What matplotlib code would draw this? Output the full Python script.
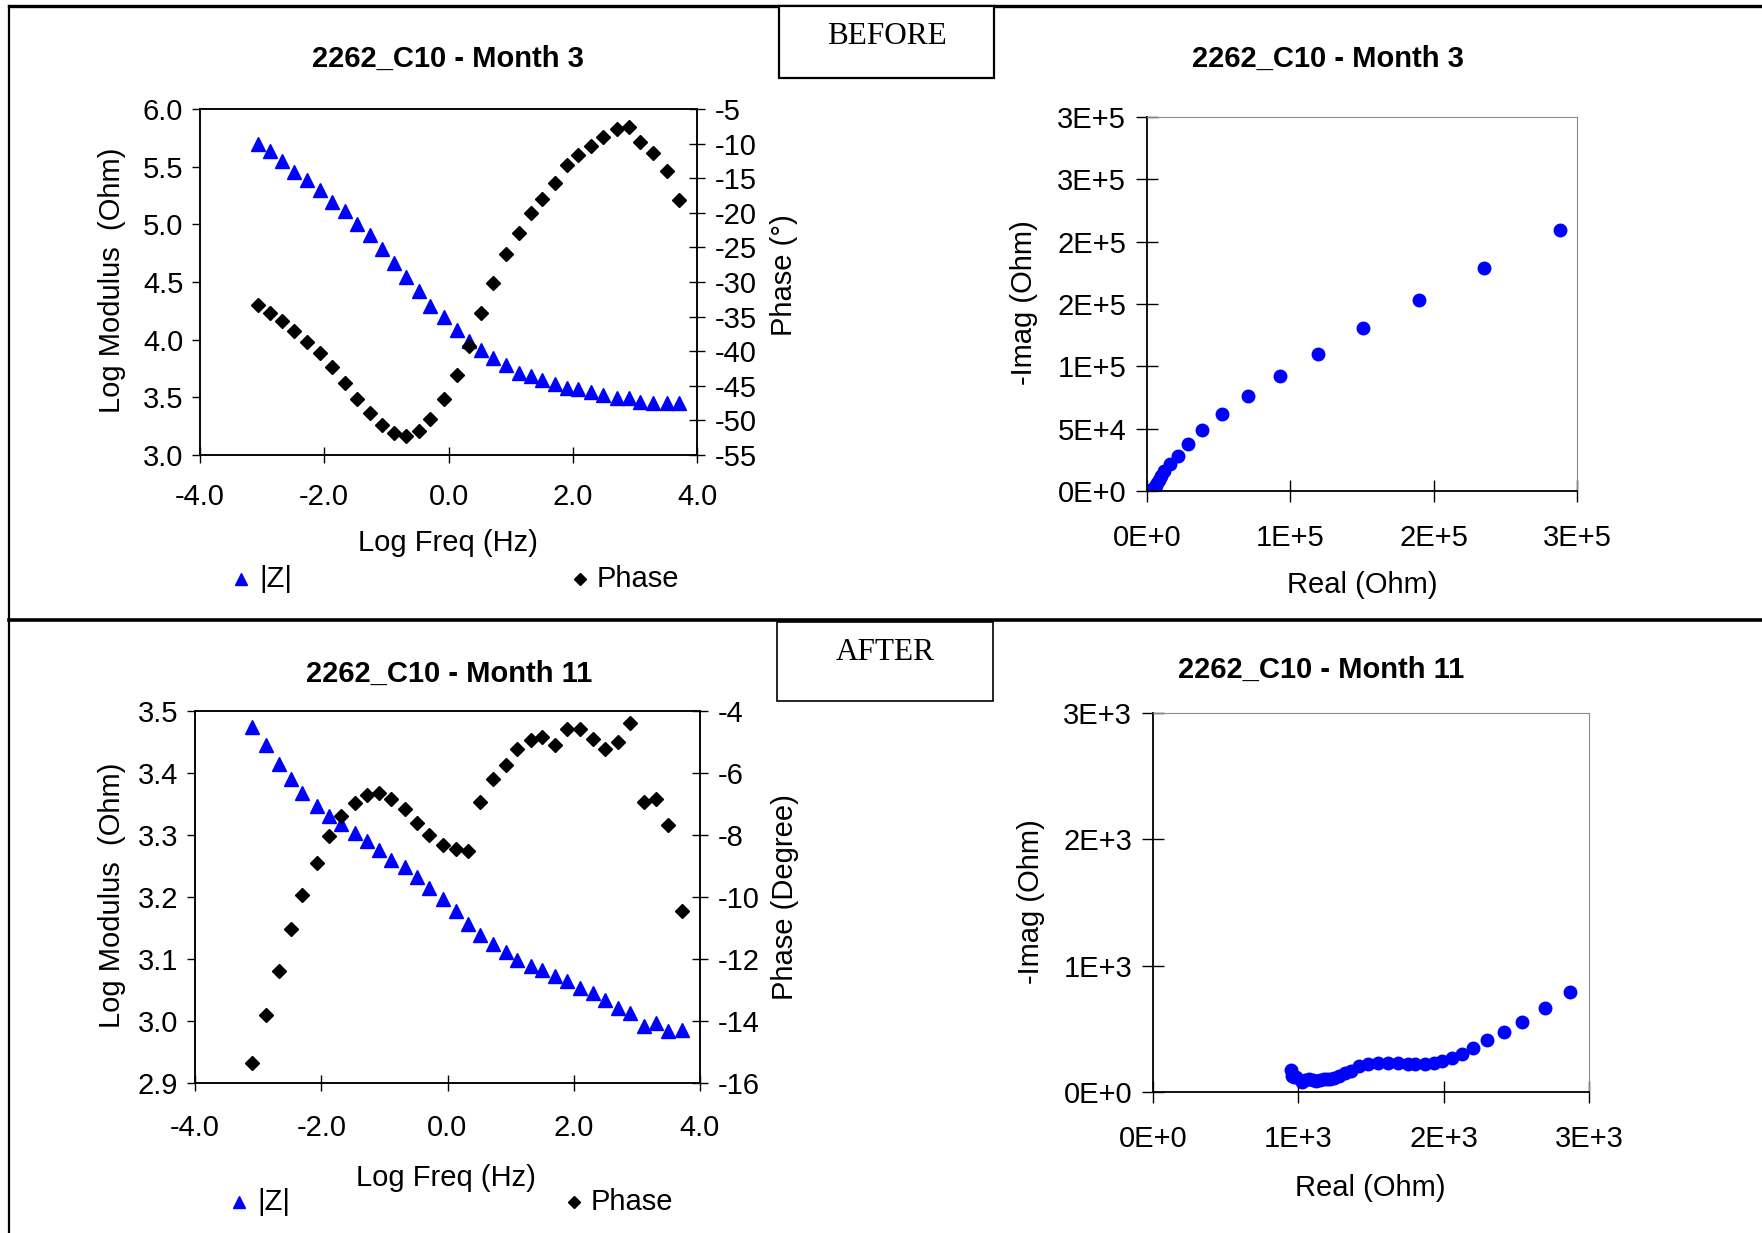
import matplotlib
matplotlib.use("Agg")
import matplotlib.pyplot as plt
from matplotlib.lines import Line2D
from matplotlib.patches import Rectangle
from matplotlib.ticker import FixedLocator, FuncFormatter, FormatStrFormatter
import math

plt.rcParams['font.family'] = ['Liberation Sans', 'DejaVu Sans']
plt.rcParams['axes.unicode_minus'] = False

W, H, DPI = 1762, 1233, 100

# ---------------- Month 3 (before) ----------------
m3_logf = [-3.07, -2.87, -2.68, -2.48, -2.27, -2.07, -1.87, -1.67, -1.48, -1.26,
           -1.07, -0.87, -0.68, -0.48, -0.29, -0.07, 0.13, 0.33, 0.52, 0.71,
           0.93, 1.13, 1.32, 1.51, 1.71, 1.91, 2.09, 2.29, 2.48, 2.71,
           2.90, 3.09, 3.29, 3.52, 3.71]
m3_logz = [5.697, 5.633, 5.547, 5.454, 5.382, 5.301, 5.197, 5.113, 5.007, 4.906,
           4.787, 4.663, 4.542, 4.418, 4.296, 4.195, 4.088, 3.987, 3.909, 3.843,
           3.777, 3.713, 3.684, 3.649, 3.612, 3.583, 3.569, 3.548, 3.517, 3.496,
           3.496, 3.459, 3.447, 3.453, 3.453]
m3_phase = [-33.3, -34.5, -35.6, -37.1, -38.6, -40.3, -42.3, -44.6, -46.9, -48.9,
            -50.7, -51.8, -52.2, -51.5, -49.8, -46.9, -43.4, -39.3, -34.5, -30.1,
            -26.0, -22.9, -20.0, -18.0, -15.7, -13.1, -11.6, -10.3, -9.0, -7.9,
            -7.6, -9.7, -11.4, -13.9, -18.2]
m3_real = [288000, 235000, 190000, 151000, 119000, 92900, 70400, 52100, 38200, 28500,
           21400, 15700, 12200, 10000, 8400, 7200, 6500, 5900, 5300, 4750,
           4540, 4240, 3940, 3730, 3630, 3480, 3250, 3100, 3100, 2840,
           2740, 2760, 2700]
m3_imag = [209000, 179000, 153000, 131000, 110000, 92400, 76400, 62000, 49100, 38000,
           28400, 22000, 16000, 12000, 8700, 6200, 4600, 3500, 2600, 2000,
           1650, 1370, 1110, 870, 750, 630, 520, 430, 410, 480,
           550, 680, 890]

# ---------------- Month 11 (after) ----------------
m11_logf = [-3.09, -2.87, -2.67, -2.48, -2.30, -2.07, -1.88, -1.69, -1.47, -1.27,
            -1.08, -0.89, -0.67, -0.48, -0.29, -0.07, 0.13, 0.32, 0.51, 0.72,
            0.92, 1.10, 1.32, 1.49, 1.71, 1.90, 2.10, 2.31, 2.50, 2.70,
            2.89, 3.12, 3.31, 3.50, 3.72]
m11_logz = [3.474, 3.445, 3.415, 3.390, 3.367, 3.347, 3.331, 3.317, 3.303, 3.290,
            3.276, 3.260, 3.248, 3.232, 3.215, 3.196, 3.177, 3.157, 3.138, 3.125,
            3.112, 3.099, 3.089, 3.083, 3.073, 3.064, 3.053, 3.045, 3.034, 3.021,
            3.013, 2.992, 2.997, 2.984, 2.986]
m11_phase = [-15.35, -13.80, -12.38, -11.03, -9.92, -8.90, -8.04, -7.40, -6.97, -6.70,
             -6.65, -6.83, -7.15, -7.61, -7.99, -8.31, -8.44, -8.51, -6.95, -6.18,
             -5.73, -5.22, -4.92, -4.84, -5.09, -4.57, -4.57, -4.90, -5.23, -5.01,
             -4.39, -6.95, -6.83, -7.67, -10.44]
m11_real = [2870, 2700, 2538, 2413, 2298, 2200, 2123, 2056, 1990, 1932,
            1870, 1805, 1752, 1688, 1620, 1550, 1482, 1418, 1363, 1320,
            1280, 1245, 1218, 1200, 1175, 1150, 1122, 1100, 1073, 1043,
            1024, 973, 984, 953, 948]
m11_imag = [793, 667, 558, 475, 410, 347, 304, 270, 245, 227,
            222, 220, 222, 226, 227, 226, 221, 208, 170, 147,
            128, 112, 104, 101, 104, 92, 90, 95, 100, 92,
            80, 118, 118, 130, 178]

# Tick positions
bode_x_ticks = [-4.0, -2.0, 0.0, 2.0, 4.0]
m3_mod_ticks = [3.0, 3.5, 4.0, 4.5, 5.0, 5.5, 6.0]
m3_phase_ticks = [-55, -50, -45, -40, -35, -30, -25, -20, -15, -10, -5]
m11_mod_ticks = [2.9, 3.0, 3.1, 3.2, 3.3, 3.4, 3.5]
m11_phase_ticks = [-16, -14, -12, -10, -8, -6, -4]
m3_nyq_x_ticks = [0, 100000, 200000, 300000]
m3_nyq_y_ticks = [0, 50000, 100000, 150000, 200000, 250000, 300000]
m11_nyq_ticks = [0, 1000, 2000, 3000]

title_m3 = "2262_C10 - Month 3"
title_m11 = "2262_C10 - Month 11"

BLUE = '#0000ff'
TICK_FS = 21
LABEL_FS = 21
TITLE_FS = 21

fig = plt.figure(figsize=(W / DPI, H / DPI), dpi=DPI)


def rect(x0, y0, x1, y1):
    return [x0 / W, 1 - y1 / H, (x1 - x0) / W, (y1 - y0) / H]


def ftext(x, y, s, **kw):
    kw.setdefault('ha', 'center')
    kw.setdefault('va', 'center')
    return fig.text(x / W, 1 - y / H, s, **kw)


def fline(xs, ys, **kw):
    fig.add_artist(Line2D([x / W for x in xs], [1 - y / H for y in ys],
                          transform=fig.transFigure, **kw))


def excel_sci(v, pos=None):
    if v == 0:
        return "0E+0"
    e = int(math.floor(math.log10(abs(v))))
    m = int(math.floor(abs(v) / 10 ** e + 0.5))
    if m == 10:
        m, e = 1, e + 1
    return f"{m}E+{e}"


def bode(box, logf, logz, phase, zlim, zticks, plim, pticks, xpad):
    ax = fig.add_axes(rect(*box))
    ax.plot(logf, logz, linestyle='none', marker='^', ms=9.5, color=BLUE, mec=BLUE)
    ax.set_xlim(-4, 4)
    ax.set_ylim(*zlim)
    ax.xaxis.set_major_locator(FixedLocator(bode_x_ticks))
    ax.xaxis.set_major_formatter(FormatStrFormatter('%.1f'))
    ax.yaxis.set_major_locator(FixedLocator(zticks))
    ax.yaxis.set_major_formatter(FormatStrFormatter('%.1f'))
    ax.tick_params(axis='x', direction='inout', length=11, width=1, pad=xpad,
                   labelsize=TICK_FS)
    ax.tick_params(axis='y', direction='out', length=6, width=1, pad=6,
                   labelsize=TICK_FS)
    for s in ax.spines.values():
        s.set_linewidth(1.1)
    ax2 = ax.twinx()
    ax2.plot(logf, phase, linestyle='none', marker='D', ms=7, color='black')
    ax2.set_ylim(*plim)
    ax2.yaxis.set_major_locator(FixedLocator(pticks))
    ax2.yaxis.set_major_formatter(FormatStrFormatter('%d'))
    ax2.tick_params(axis='y', direction='inout', length=11, width=1, pad=7,
                    labelsize=TICK_FS)
    for s in ax2.spines.values():
        s.set_linewidth(1.1)
    return ax, ax2


def nyquist(box, re, im, xticks, yticks, lim):
    ax = fig.add_axes(rect(*box))
    ax.plot(re, im, linestyle='none', marker='o', ms=9, color=BLUE, mec=BLUE,
            clip_on=True)
    ax.set_xlim(0, lim)
    ax.set_ylim(0, lim)
    ax.xaxis.set_major_locator(FixedLocator(xticks))
    ax.yaxis.set_major_locator(FixedLocator(yticks))
    ax.xaxis.set_major_formatter(FuncFormatter(excel_sci))
    ax.yaxis.set_major_formatter(FuncFormatter(excel_sci))
    ax.tick_params(axis='both', direction='inout', length=16, width=1,
                   labelsize=TICK_FS)
    ax.tick_params(axis='x', pad=16)
    ax.tick_params(axis='y', pad=7)
    ax.spines['left'].set_linewidth(1.3)
    ax.spines['bottom'].set_linewidth(1.3)
    ax.spines['top'].set_color('#8a8a8a')
    ax.spines['right'].set_color('#8a8a8a')
    return ax


# Panel frame and section boxes
fline([9, W], [6, 6], color='black', lw=2.4)
fline([9, 9], [6, H], color='black', lw=1.6)
fline([9, W], [620, 620], color='black', lw=2.6)
fig.add_artist(Rectangle((779 / W, 1 - 78 / H), (994 - 779) / W, (78 - 6) / H,
                         transform=fig.transFigure, fill=True, fc='white',
                         ec='black', lw=1.6, zorder=3))
fig.add_artist(Rectangle((777 / W, 1 - 701 / H), (993 - 777) / W, (701 - 622) / H,
                         transform=fig.transFigure, fill=True, fc='white',
                         ec='black', lw=1.2, zorder=3))
ftext(887, 37, "BEFORE", family=['Liberation Serif', 'DejaVu Serif'], size=22.5,
      zorder=4)
ftext(885, 653, "AFTER", family=['Liberation Serif', 'DejaVu Serif'], size=22.5,
      zorder=4)

# ---------- Before ----------
bode((200, 109, 697, 455), m3_logf, m3_logz, m3_phase, (3.0, 6.0), m3_mod_ticks,
     (-55, -5), m3_phase_ticks, 15)
nyquist((1147, 117, 1577, 491), m3_real, m3_imag, m3_nyq_x_ticks, m3_nyq_y_ticks, 300000)

ftext(448, 59, title_m3, size=TITLE_FS, weight='bold')
ftext(1328, 59, title_m3, size=TITLE_FS, weight='bold')
ftext(448, 543, "Log Freq (Hz)", size=LABEL_FS)
ftext(112, 280, "Log Modulus  (Ohm)", size=LABEL_FS, rotation=90)
ftext(784, 275, "Phase (\u00b0)", size=LABEL_FS, rotation=90)
ftext(1024, 303, "-Imag (Ohm)", size=LABEL_FS, rotation=90)
ftext(1362, 585, "Real (Ohm)", size=LABEL_FS)

# legend row
fline([241], [579], linestyle='none', marker='^', ms=9, color=BLUE)
ftext(259, 579, "|Z|", size=LABEL_FS, ha='left')
fline([580], [579], linestyle='none', marker='D', ms=6.5, color='black')
ftext(597, 579, "Phase", size=LABEL_FS, ha='left')

# ---------- After ----------
bode((195, 711, 700, 1083), m11_logf, m11_logz, m11_phase, (2.9, 3.5), m11_mod_ticks,
     (-16, -4), m11_phase_ticks, 17)
nyquist((1153, 713, 1589, 1092), m11_real, m11_imag, m11_nyq_ticks, m11_nyq_ticks, 3000)

ftext(449, 674, title_m11, size=TITLE_FS, weight='bold')
ftext(1321, 670, title_m11, size=TITLE_FS, weight='bold')
ftext(446, 1178, "Log Freq (Hz)", size=LABEL_FS)
ftext(112, 895, "Log Modulus  (Ohm)", size=LABEL_FS, rotation=90)
ftext(785, 897, "Phase (Degree)", size=LABEL_FS, rotation=90)
ftext(1031, 902, "-Imag (Ohm)", size=LABEL_FS, rotation=90)
ftext(1370, 1188, "Real (Ohm)", size=LABEL_FS)

fline([239], [1202], linestyle='none', marker='^', ms=9, color=BLUE)
ftext(257, 1202, "|Z|", size=LABEL_FS, ha='left')
fline([574], [1202], linestyle='none', marker='D', ms=6.5, color='black')
ftext(591, 1202, "Phase", size=LABEL_FS, ha='left')

fig.savefig("out.png", dpi=DPI, facecolor='white')
